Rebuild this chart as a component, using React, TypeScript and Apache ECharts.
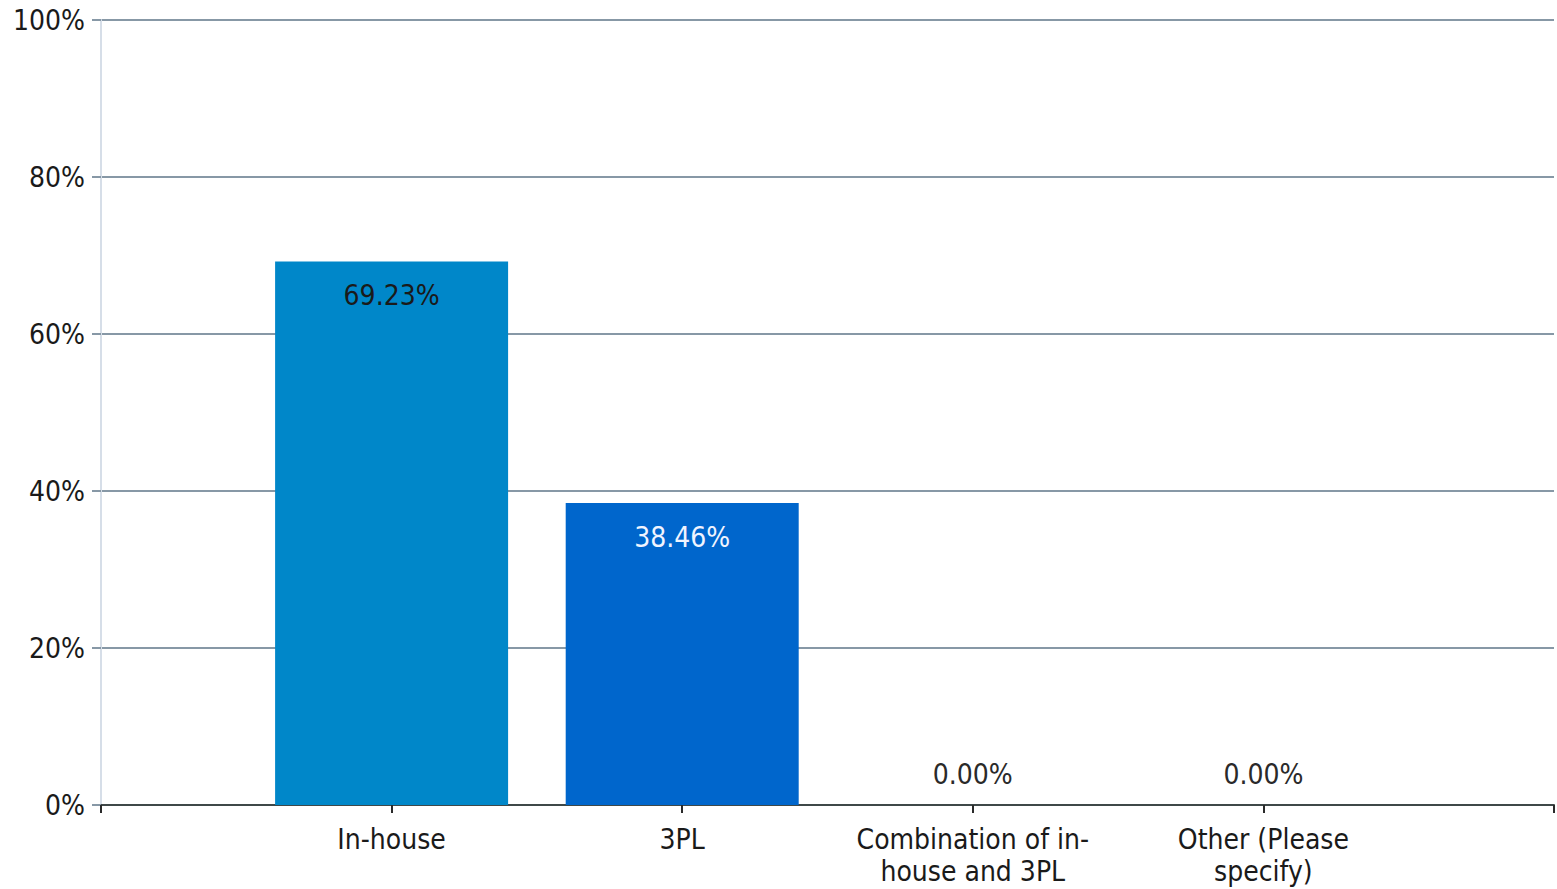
import React, { useEffect, useRef } from "react";
import * as echarts from "echarts";

const categories = [
  "In-house",
  "3PL",
  "Combination of in-\nhouse and 3PL",
  "Other (Please\nspecify)",
];
const values = [69.23, 38.46, 0.0, 0.0];
const barColors = ["#0087C9", "#0066CC", "#0087C9", "#0066CC"];
const labelColors = ["#1a1a1a", "#F0F4FF", "#2a2a2a", "#2a2a2a"];
const yTicks = [0, 20, 40, 60, 80, 100];

const FONT = '"Liberation Sans Narrow", "DejaVu Sans Condensed", "Liberation Sans", sans-serif';

export default function App() {
  const ref = useRef<HTMLDivElement>(null);
  useEffect(() => {
    if (!ref.current) return;
    const chart = echarts.init(ref.current, undefined, { renderer: "svg" });
    const axisData = ["", ...categories, ""];
    const seriesData: any[] = ["-"];
    values.forEach((v, i) => {
      const zero = v === 0;
      seriesData.push({
        value: v,
        itemStyle: { color: barColors[i] },
        label: {
          show: true,
          position: zero ? "top" : "insideTop",
          distance: zero ? 17 : 20,
          color: labelColors[i],
          formatter: (p: any) => Number(p.value).toFixed(2) + "%",
          fontFamily: FONT,
          fontSize: 28,
        },
      });
    });
    seriesData.push("-");
    chart.setOption({
      animation: false,
      grid: { left: 101, right: 0, top: 20, bottom: 84, containLabel: false },
      xAxis: {
        type: "category",
        data: axisData,
        boundaryGap: false,
        axisLine: { lineStyle: { color: "#3f4848", width: 2 } },
        axisTick: { show: true, length: 8, lineStyle: { color: "#2a2a2a", width: 2 }, alignWithLabel: true },
        axisLabel: {
          interval: 0,
          margin: 18,
          fontFamily: FONT,
          fontSize: 28,
          lineHeight: 32,
          color: "#1a1a1a",
        },
        splitLine: { show: false },
      },
      yAxis: {
        type: "value",
        min: 0,
        max: 100,
        interval: 20,
        axisLine: { show: true, lineStyle: { color: "#D6DEE8", width: 2 } },
        axisTick: { show: true, length: 9, lineStyle: { color: "#8798A6", width: 2 } },
        axisLabel: {
          formatter: (v: number) => (yTicks.includes(v) ? v + "%" : ""),
          margin: 16,
          fontFamily: FONT,
          fontSize: 28,
          color: "#1a1a1a",
        },
        splitLine: { show: true, lineStyle: { color: "#8798A6", width: 2 } },
      },
      series: [
        {
          type: "bar",
          data: seriesData,
          barWidth: 233,
        },
      ],
    });
    return () => chart.dispose();
  }, []);
  return (
    <div
      ref={ref}
      style={{ position: "fixed", left: 0, top: 0, width: 1557, height: 889, background: "#fff" }}
    />
  );
}
